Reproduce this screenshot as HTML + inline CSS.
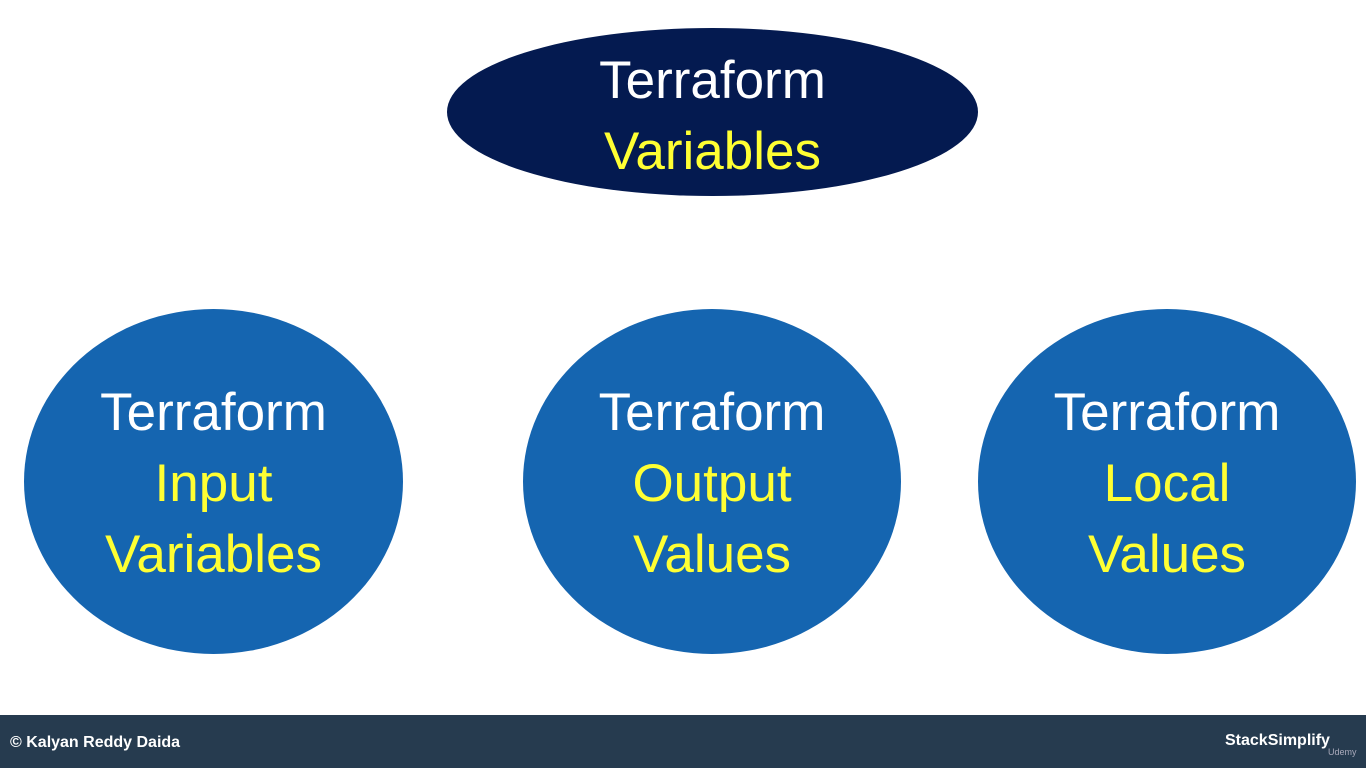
<!DOCTYPE html>
<html><head><style>
body{margin:0;width:1366px;height:768px;background:#fff;position:relative;overflow:hidden;font-family:"Liberation Sans",sans-serif}
.e{position:absolute;border-radius:50%;display:flex;flex-direction:column;align-items:center;justify-content:center;font-size:53px;line-height:71px;color:#fff;box-sizing:border-box}
.y{color:#ffff33}
.f{position:absolute;left:0;top:715px;width:1366px;height:53px;background:#263b4f;color:#fff;font-weight:bold;font-size:16px}
</style></head><body>
<div class="e" style="left:447px;top:28px;width:531px;height:168px;background:#041a50;padding-top:8px"><div>Terraform</div><div class="y">Variables</div></div>
<div class="e" style="left:24px;top:309px;width:379px;height:345px;background:#1565b0;padding-top:4px"><div>Terraform</div><div class="y">Input</div><div class="y">Variables</div></div>
<div class="e" style="left:523px;top:309px;width:378px;height:345px;background:#1565b0;padding-top:4px"><div>Terraform</div><div class="y">Output</div><div class="y">Values</div></div>
<div class="e" style="left:978px;top:309px;width:378px;height:345px;background:#1565b0;padding-top:4px"><div>Terraform</div><div class="y">Local</div><div class="y">Values</div></div>
<div class="f"><span style="position:absolute;left:10px;top:19px">© Kalyan Reddy Daida</span><span style="position:absolute;left:1225px;top:17px">StackSimplify</span><span style="position:absolute;left:1328px;top:32px;font-size:9px;font-weight:normal;color:#aab">Udemy</span></div>
</body></html>
